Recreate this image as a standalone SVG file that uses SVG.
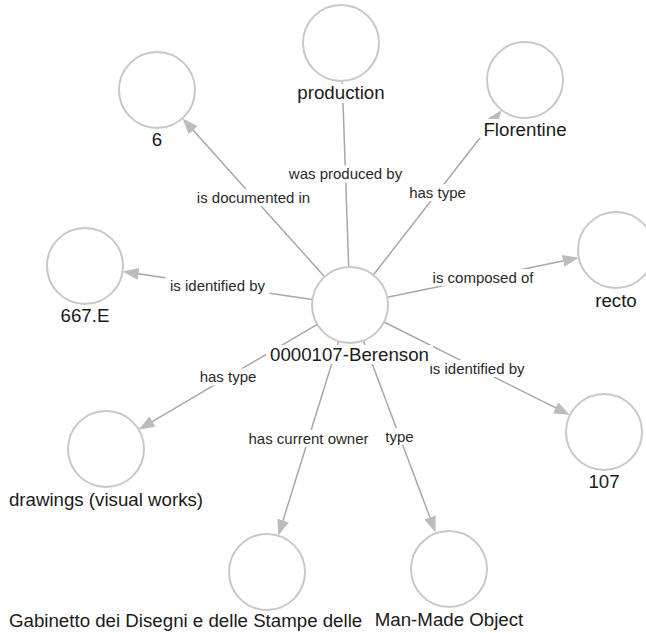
<svg xmlns="http://www.w3.org/2000/svg" width="646" height="633" viewBox="0 0 646 633">
<style>
.edge{stroke:#a8a8a8;stroke-width:1.5;fill:none;marker-end:url(#arr)}
.node circle{fill:#fff;stroke:#c8c8c8;stroke-width:2}
.nl{font-family:"Liberation Sans",Arial,sans-serif;font-size:18.7px;fill:#1a1a1a;text-anchor:middle}
.el{font-family:"Liberation Sans",Arial,sans-serif;font-size:15px;fill:#2a2a2a;text-anchor:middle}
.bg{fill:#fff}
</style>
<defs>
<marker id="arr" markerUnits="userSpaceOnUse" markerWidth="16" markerHeight="12" refX="12" refY="6" orient="auto">
<path d="M0,0 L16,6 L0,12 z" fill="#bcbcbc"/>
</marker>
</defs>
<rect width="646" height="633" fill="#fff"/>
<g id="connectors">
<line class="edge" x1="324.6" y1="276.7" x2="185.1" y2="121.3"/>
<line class="edge" x1="348.7" y1="267.0" x2="342.4" y2="85.0"/>
<line class="edge" x1="373.3" y1="275.0" x2="499.2" y2="113.2"/>
<line class="edge" x1="387.2" y1="297.3" x2="574.9" y2="258.5"/>
<line class="edge" x1="312.4" y1="299.5" x2="126.6" y2="272.1"/>
<line class="edge" x1="384" y1="322" x2="566.4" y2="413.2"/>
<line class="edge" x1="317.3" y1="324.3" x2="142.1" y2="427.7"/>
<line class="edge" x1="338.7" y1="341.3" x2="279.5" y2="531.9"/>
<line class="edge" x1="363.4" y1="340.6" x2="434.2" y2="528.7"/>
<g id="edge-labels">
<rect class="bg" x="192.5" y="189" width="122" height="17"/>
<text class="el" x="253.5" y="202.5">is documented in</text>
<rect class="bg" x="282.5" y="165.5" width="126" height="17"/>
<text class="el" x="345.5" y="179">was produced by</text>
<rect class="bg" x="406.5" y="184" width="62" height="17"/>
<text class="el" x="437.5" y="197.5">has type</text>
<rect class="bg" x="426.5" y="269" width="113" height="17"/>
<text class="el" x="483" y="282.5">is composed of</text>
<rect class="bg" x="165.5" y="277" width="104" height="17"/>
<text class="el" x="217.5" y="290.5">is identified by</text>
<rect class="bg" x="425" y="360" width="104" height="17"/>
<text class="el" x="477" y="373.5">is identified by</text>
<rect class="bg" x="197" y="368.5" width="62" height="17"/>
<text class="el" x="228" y="382">has type</text>
<rect class="bg" x="243.5" y="430" width="130" height="17"/>
<text class="el" x="308.5" y="443.5">has current owner</text>
<rect class="bg" x="383.5" y="428" width="32" height="17"/>
<text class="el" x="399.5" y="441.5">type</text>
</g>
</g>
<g id="n-6" class="node"><circle cx="157" cy="90" r="38"/><text class="nl" x="157" y="146">6</text></g>
<g id="n-production" class="node"><circle cx="341" cy="43" r="38"/><rect class="bg" x="292" y="84" width="98" height="19"/><text class="nl" x="341" y="99">production</text></g>
<g id="n-florentine" class="node"><circle cx="525" cy="80" r="38"/><rect class="bg" x="479" y="119" width="92" height="19"/><text class="nl" x="525" y="136">Florentine</text></g>
<g id="n-recto" class="node"><circle cx="616" cy="250" r="38"/><text class="nl" x="616" y="307">recto</text></g>
<g id="n-667E" class="node"><circle cx="85" cy="266" r="38"/><text class="nl" x="85" y="322">667.E</text></g>
<g id="n-107" class="node"><circle cx="604" cy="432" r="38"/><text class="nl" x="604" y="488">107</text></g>
<g id="n-drawings" class="node"><circle cx="106" cy="449" r="38"/><text class="nl" x="106" y="506">drawings (visual works)</text></g>
<g id="n-gabinetto" class="node"><circle cx="267" cy="572" r="38"/><text class="nl" x="9" y="627" style="text-anchor:start">Gabinetto dei Disegni e delle Stampe delle</text></g>
<g id="n-manmade" class="node"><circle cx="449" cy="569" r="38"/><rect class="bg" x="373" y="610" width="152" height="21"/><text class="nl" x="449" y="626">Man-Made Object</text></g>
<g id="n-center" class="node"><circle cx="350" cy="305" r="38"/><rect class="bg" x="266" y="345" width="167" height="19"/><text class="nl" x="349.5" y="361">0000107-Berenson</text></g>
</svg>
